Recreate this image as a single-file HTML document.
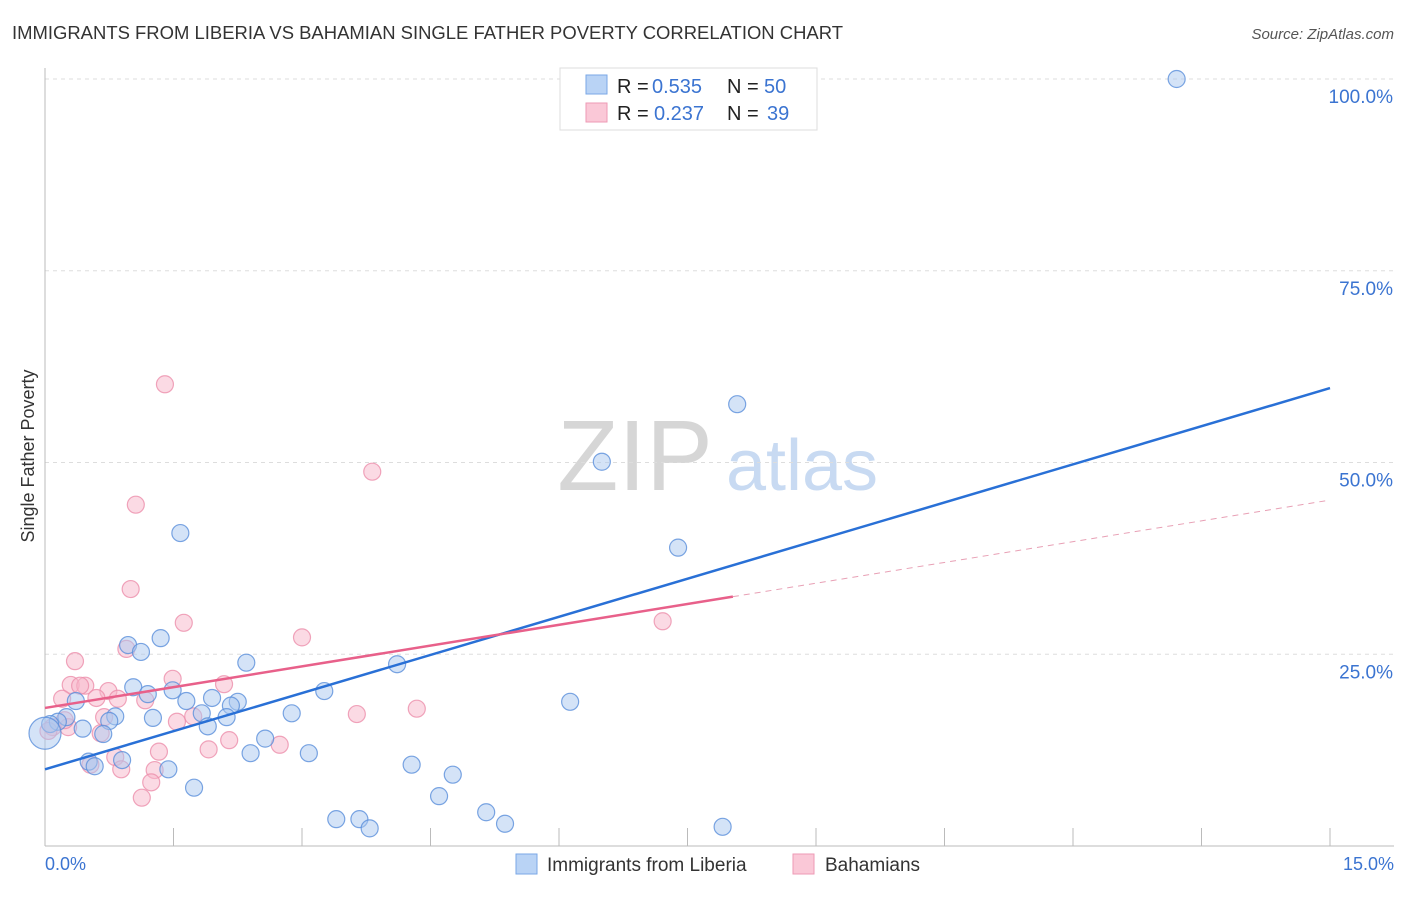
<!DOCTYPE html>
<html><head><meta charset="utf-8"><style>
body{margin:0;background:#fff;font-family:"Liberation Sans",sans-serif;}
svg text{font-family:"Liberation Sans",sans-serif;}
</style></head><body>
<svg id="chart" width="1406" height="892" viewBox="0 0 1406 892" xmlns="http://www.w3.org/2000/svg">
<text x="12" y="39" font-size="18" fill="#333" textLength="831" lengthAdjust="spacingAndGlyphs">IMMIGRANTS FROM LIBERIA VS BAHAMIAN SINGLE FATHER POVERTY CORRELATION CHART</text>
<text x="1394" y="39" font-size="15" fill="#555" font-style="italic" text-anchor="end">Source: ZipAtlas.com</text>
<g>
<text x="635" y="490" font-size="100" font-family="Liberation Serif,serif" fill="#d6d6d6" text-anchor="middle">ZIP</text>
<text x="802" y="490" font-size="72" fill="#c8daf2" text-anchor="middle">atlas</text>
</g>
<g id="grid"></g>
<g id="axes"></g>
<g id="pts"></g>
<g id="trends"></g>
<text transform="translate(34,456) rotate(-90)" font-size="18" fill="#333" text-anchor="middle">Single Father Poverty</text>
<text x="45" y="870" font-size="18" fill="#3b74d1">0.0%</text>
<text x="1394" y="870" font-size="18" fill="#3b74d1" text-anchor="end">15.0%</text>
<g>
<rect x="560" y="68" width="257" height="62" fill="#fff" stroke="#ddd"/>
<rect x="586" y="75" width="21" height="19" fill="#b9d3f5" stroke="#7aa7e6"/>
<rect x="586" y="103" width="21" height="19" fill="#fac8d7" stroke="#ee9ab4"/>
<text x="617" y="93" font-size="20" fill="#222">R =</text>
<text x="652" y="93" font-size="20" fill="#3b74d1">0.535</text>
<text x="727" y="93" font-size="20" fill="#222">N =</text>
<text x="764" y="93" font-size="20" fill="#3b74d1">50</text>
<text x="617" y="120" font-size="20" fill="#222">R =</text>
<text x="654" y="120" font-size="20" fill="#3b74d1">0.237</text>
<text x="727" y="120" font-size="20" fill="#222">N =</text>
<text x="767" y="120" font-size="20" fill="#3b74d1">39</text>
</g>
<g>
<rect x="516" y="854" width="21" height="20" fill="#b9d3f5" stroke="#7aa7e6"/>
<text x="547" y="871" font-size="19" fill="#333">Immigrants from Liberia</text>
<rect x="793" y="854" width="21" height="20" fill="#fac8d7" stroke="#ee9ab4"/>
<text x="825" y="871" font-size="19" fill="#333">Bahamians</text>
</g>
</svg>
<script>
const blueX=[13.21,8.08,6.50,1.58,7.39,1.35,0.97,1.12,2.35,4.11,1.03,1.49,1.20,3.26,0.36,1.65,1.95,6.13,2.25,2.17,1.83,0.82,0.25,2.88,1.26,0.75,2.12,0.15,0.06,0.44,1.90,0.68,0.0,2.57,2.40,3.08,0.51,0.90,0.58,1.44,4.28,4.76,1.74,4.60,5.15,3.40,3.67,5.37,3.79,7.91];
const blueY=[100.0,57.6,50.1,40.8,38.9,27.1,26.2,25.3,23.9,23.7,20.7,20.3,19.8,20.2,18.9,18.9,19.3,18.8,18.8,18.3,17.3,16.9,16.8,17.3,16.7,16.3,16.8,16.2,15.9,15.3,15.6,14.6,14.7,14.0,12.1,12.1,11.0,11.2,10.4,10.0,10.6,9.3,7.6,6.5,4.4,3.5,3.5,2.9,2.3,2.5];
const pinkX=[1.40,3.82,1.06,1.00,1.62,3.00,7.21,0.95,0.35,1.49,2.09,0.30,0.47,0.41,0.74,0.20,0.60,1.17,0.85,3.64,4.34,0.69,1.73,1.54,0.27,0.09,0.04,0.65,2.15,2.74,1.91,1.33,0.82,0.53,0.89,1.28,1.24,1.13,0.23];
const pinkY=[60.2,48.8,44.5,33.5,29.1,27.2,29.3,25.7,24.1,21.8,21.1,21.0,20.9,20.9,20.2,19.2,19.3,19.0,19.2,17.2,17.9,16.8,16.9,16.2,15.5,15.5,15.0,14.7,13.8,13.2,12.6,12.3,11.6,10.6,10.0,9.9,8.3,6.3,16.4];
const yTicks=[25,50,75,100];
const xTickVals=[0,1.5,3,4.5,6,7.5,9,10.5,12,13.5,15];
const blueTrend=[10.0,59.7];
const pinkTrend=[18.0,45.1];
const pinkSolidEnd=8.03;
const NS='http://www.w3.org/2000/svg';
const sx=v=>45+v/15*1285;
const sy=v=>846-v/100*767;
function mk(tag,attrs,parent){const e=document.createElementNS(NS,tag);for(const k in attrs)e.setAttribute(k,attrs[k]);parent.appendChild(e);return e;}
const grid=document.getElementById('grid'),axes=document.getElementById('axes'),pts=document.getElementById('pts'),tr=document.getElementById('trends');
yTicks.forEach(t=>{
 const l=mk('line',{x1:45,x2:1394,y1:sy(t),y2:sy(t),stroke:'#ddd','stroke-dasharray':'4,4'},grid);
 
 
 const tx=mk('text',{x:1393,y:sy(t)+24,'font-size':19,fill:'#3b74d1','text-anchor':'end'},grid);
 tx.textContent=t.toFixed(1)+'%';
 
 
});
let a=mk('line',{x1:45,x2:45,y1:68,y2:846,stroke:'#bbb'},axes);


a=mk('line',{x1:45,x2:1394,y1:846,y2:846,stroke:'#bbb'},axes);


xTickVals.forEach(t=>{
 const l=mk('line',{x1:sx(t),x2:sx(t),y1:828,y2:846,stroke:'#bbb'},axes);
 
 
});
function dots(X,Y,fill,stroke,name){
 X.forEach((x,i)=>{
  const r=(x===0)?16:8.5;
  const c=mk('circle',{cx:sx(x),cy:sy(Y[i]),r:r,fill:fill,'fill-opacity':0.5,stroke:stroke,'stroke-width':1.2,'stroke-opacity':0.8},pts);
  
  
 });
}
dots(pinkX,pinkY,'#f7b6c9','#ec8fab','point-bahamians');
dots(blueX,blueY,'#a9c8f0','#5a8fdb','point-liberia');
let t=mk('line',{x1:sx(0),y1:sy(blueTrend[0]),x2:sx(15),y2:sy(blueTrend[1]),stroke:'#2970d6','stroke-width':2.5},tr);


const pAt=x=>pinkTrend[0]+(pinkTrend[1]-pinkTrend[0])*x/15;
t=mk('line',{x1:sx(0),y1:sy(pAt(0)),x2:sx(pinkSolidEnd),y2:sy(pAt(pinkSolidEnd)),stroke:'#e8608a','stroke-width':2.5},tr);


t=mk('line',{x1:sx(pinkSolidEnd),y1:sy(pAt(pinkSolidEnd)),x2:sx(15),y2:sy(pAt(15)),stroke:'#e8a0b5','stroke-width':1,'stroke-dasharray':'6,5'},tr);


</script>
</body></html>
